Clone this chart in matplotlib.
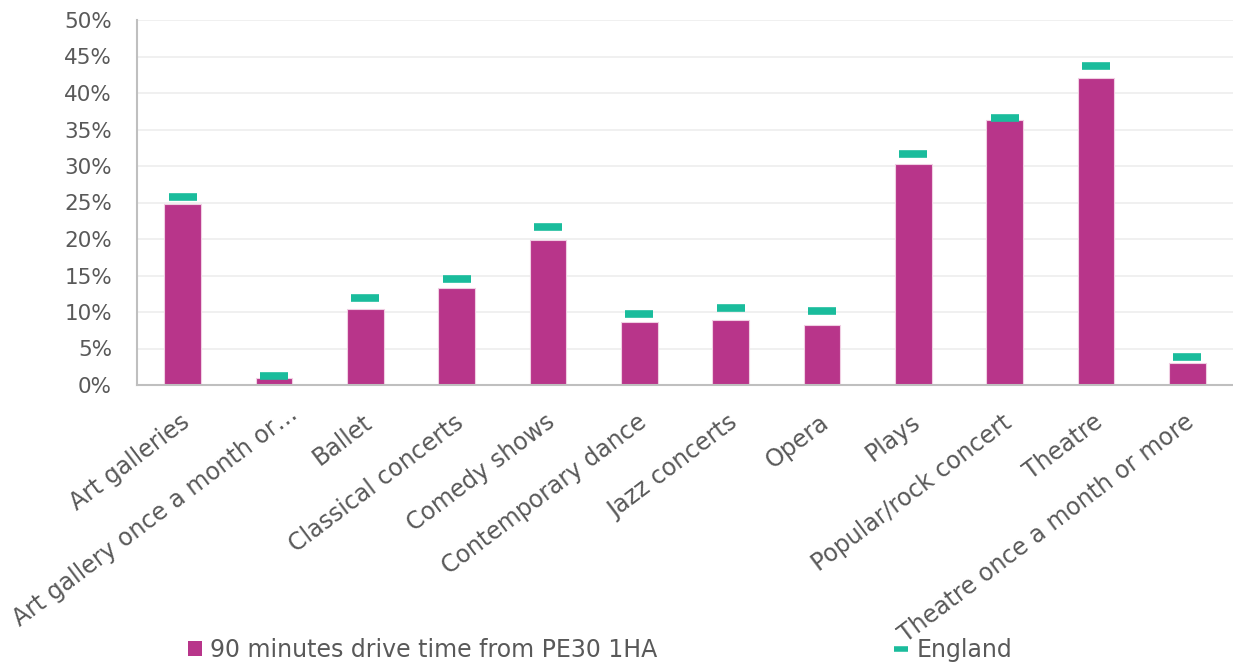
import matplotlib
matplotlib.use("Agg")
import matplotlib.pyplot as plt
import matplotlib.transforms as mtransforms
from matplotlib.patches import Patch
from matplotlib.lines import Line2D
from matplotlib.ticker import PercentFormatter, MultipleLocator

# Attendance share by art form
categories = [
    "Art galleries",
    "Art gallery once a month or\u2026",
    "Ballet",
    "Classical concerts",
    "Comedy shows",
    "Contemporary dance",
    "Jazz concerts",
    "Opera",
    "Plays",
    "Popular/rock concert",
    "Theatre",
    "Theatre once a month or more",
]
local_area = [24.8, 1.0, 10.4, 13.35, 19.8, 8.6, 8.9, 8.2, 30.3, 36.3, 42.1, 3.0]
england = [25.7, 1.3, 11.9, 14.5, 21.7, 9.7, 10.6, 10.2, 31.7, 36.6, 43.7, 3.8]

series_names = ["90 minutes drive time from PE30 1HA", "England"]

BAR_COLOR = "#B8358A"
MARK_COLOR = "#1ABC9C"
TEXT_COLOR = "#595959"

plt.rcParams["font.family"] = ["DejaVu Sans"]

fig = plt.figure(figsize=(12.33, 6.66), dpi=100)
ax = fig.add_axes([137 / 1233, 1 - 385 / 666, 1 - 137 / 1233, (385 - 20) / 666])

x = list(range(len(categories)))
ax.bar(x, local_area, width=0.4, color=BAR_COLOR, edgecolor="#F0CFE3",
       linewidth=0.8, zorder=2)
ax.plot(x, england, linestyle="none", marker="_", markersize=20,
        markeredgewidth=5.5, color=MARK_COLOR, zorder=3)

ax.set_xlim(-0.5, len(categories) - 0.5)
ax.set_ylim(0, 50)
ax.yaxis.set_major_locator(MultipleLocator(5))
ax.yaxis.set_major_formatter(PercentFormatter(decimals=0))
ax.grid(axis="y", color="#EFEFEF", linewidth=1.3, zorder=0)
ax.set_axisbelow(True)

for side in ("top", "right"):
    ax.spines[side].set_visible(False)
for side in ("left", "bottom"):
    ax.spines[side].set_color("#BFBFBF")
    ax.spines[side].set_linewidth(1.5)

ax.tick_params(axis="y", length=0, pad=18, labelsize=15.5, labelcolor=TEXT_COLOR)
ax.tick_params(axis="x", length=0, pad=18, labelsize=17, labelcolor=TEXT_COLOR)

ax.set_xticks(x)
ax.set_xticklabels(categories, rotation=37, ha="right", va="top",
                   rotation_mode="anchor")
for i, lbl in enumerate(ax.get_xticklabels()):
    # the truncated label sits a little further right and higher
    dx, dy = (-3, 0) if i != 1 else (14, 8)
    shift = mtransforms.ScaledTranslation(dx / 100, dy / 100, fig.dpi_scale_trans)
    lbl.set_transform(lbl.get_transform() + shift)

handles = [
    Patch(facecolor=BAR_COLOR, edgecolor="none"),
    Line2D([], [], color=MARK_COLOR, linewidth=4, solid_capstyle="butt"),
]
leg = fig.legend(handles, series_names, loc="center left",
                 bbox_to_anchor=(188 / 1233, 1 - 650 / 666), ncol=2,
                 frameon=False, fontsize=17, handlelength=0.6, handleheight=0.6,
                 handletextpad=0.35, columnspacing=10.0, borderpad=0,
                 borderaxespad=0)
for t in leg.get_texts():
    t.set_color(TEXT_COLOR)

fig.savefig("out.png", dpi=100)
